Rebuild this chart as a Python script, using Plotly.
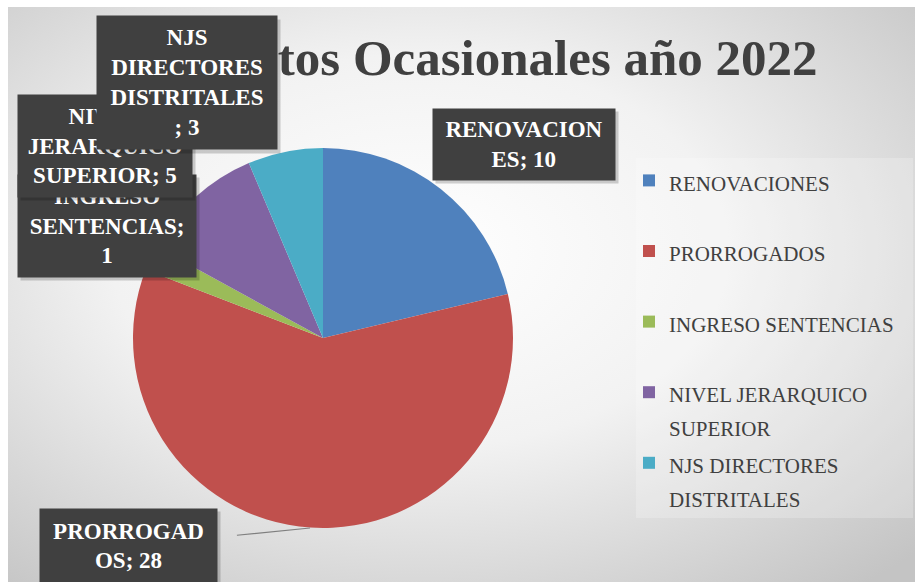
import base64
import plotly.graph_objects as go

# Datos del gráfico
categorias = [
    "RENOVACIONES",
    "PRORROGADOS",
    "INGRESO SENTENCIAS",
    "NIVEL JERARQUICO SUPERIOR",
    "NJS DIRECTORES DISTRITALES",
]
valores = [10, 28, 1, 5, 3]
colores = ["#4F81BD", "#C0504D", "#9BBB59", "#8064A2", "#4BACC6"]

# Etiquetas de leyenda (con salto de línea como en el original)
etiquetas_leyenda = [
    "RENOVACIONES",
    "PRORROGADOS",
    "INGRESO SENTENCIAS",
    "NIVEL JERARQUICO<br>SUPERIOR",
    "NJS DIRECTORES<br>DISTRITALES",
]

# Texto de las etiquetas de datos, cortado como en Excel
etiquetas_datos = [
    "RENOVACION<br>ES; ",
    "PRORROGAD<br>OS; ",
    "INGRESO<br>SENTENCIAS;<br>",
    "NIVEL<br>JERARQUICO<br>SUPERIOR; ",
    "NJS<br>DIRECTORES<br>DISTRITALES<br>; ",
]

titulo = "Contratos Ocasionales año 2022"

W, H = 915, 582
FUENTE = "Liberation Serif"

# Fondo con degradado radial (SVG embebido)
svg = f"""<svg xmlns='http://www.w3.org/2000/svg' width='{W}' height='{H}'>
<defs><radialGradient id='g' cx='0.45' cy='0.42' r='0.75'>
<stop offset='0' stop-color='#ffffff'/>
<stop offset='0.45' stop-color='#f2f2f2'/>
<stop offset='1' stop-color='#c4c4c4'/>
</radialGradient></defs>
<rect x='8' y='7' width='{W}' height='{H}' fill='url(#g)'/>
<rect x='636' y='158' width='277' height='360' fill='rgba(255,255,255,0.22)'/>
</svg>"""
fondo = "data:image/svg+xml;base64," + base64.b64encode(svg.encode()).decode()

fig = go.Figure(
    go.Pie(
        labels=[
            f"<span style='font-size:21px'>{l}</span>" + ("" if "<br>" in l else "<br> ")
            for l in etiquetas_leyenda
        ],
        values=valores,
        marker=dict(colors=colores, line=dict(width=0)),
        sort=False,
        direction="clockwise",
        rotation=0,
        textinfo="none",
        hovertext=categorias,
        hoverinfo="text+value",
        domain=dict(x=[133 / W, 513 / W], y=[1 - 528 / H, 1 - 148 / H]),
    )
)


def px_x(v):
    return v / W


def px_y(v):
    return 1 - v / H


# Cajas de etiquetas: (centro x, centro y, ancho, alto) en píxeles
cajas = {
    0: (524, 144, 182, 71),
    1: (128, 546, 177, 74),
    2: (107, 226, 178, 102),
    3: (105, 146, 174, 102),
    4: (187, 83, 180, 133),
}

anotaciones = [
    dict(
        text=f"<b>{titulo}</b>",
        x=px_x(820),
        y=px_y(58),
        xref="paper",
        yref="paper",
        xanchor="right",
        yanchor="middle",
        showarrow=False,
        font=dict(family=FUENTE, size=51, color="#404040"),
    )
]

# Orden de dibujo: las cajas posteriores quedan encima (con una sombra suave)
for i in [0, 1, 2, 3, 4]:
    cx, cy, w, h = cajas[i]
    txt = etiquetas_datos[i] + str(valores[i])
    sombra = dict(
        text="",
        x=px_x(cx + 3),
        y=px_y(cy + 3),
        xref="paper",
        yref="paper",
        xanchor="center",
        yanchor="middle",
        width=w,
        height=h,
        bgcolor="rgba(0,0,0,0.18)",
        borderpad=0,
        showarrow=False,
    )
    a = dict(
        text=f"<b>{txt}</b>",
        x=px_x(cx),
        y=px_y(cy),
        xref="paper",
        yref="paper",
        xanchor="center",
        yanchor="middle",
        width=w,
        height=h,
        bgcolor="#404040",
        borderpad=0,
        showarrow=False,
        font=dict(family=FUENTE, size=23, color="#ffffff"),
    )
    if i == 1:
        a.update(
            showarrow=True,
            arrowhead=0,
            arrowwidth=1.2,
            arrowcolor="#7f7f7f",
            x=px_x(310),
            y=px_y(528),
            ax=cx - 310,
            ay=cy - 528,
            startstandoff=20,
        )
    anotaciones += [sombra, a]

fig.update_layout(
    width=W,
    height=H,
    margin=dict(l=0, r=0, t=0, b=0),
    paper_bgcolor="#ffffff",
    images=[
        dict(
            source=fondo,
            xref="paper",
            yref="paper",
            x=0,
            y=1,
            sizex=1,
            sizey=1,
            sizing="stretch",
            layer="below",
        )
    ],
    annotations=anotaciones,
    showlegend=True,
    legend=dict(
        x=px_x(629),
        y=px_y(157),
        xanchor="left",
        yanchor="top",
        valign="top",
        bgcolor="rgba(0,0,0,0)",
        font=dict(family=FUENTE, size=26, color="#404040"),
        itemwidth=30,
    ),
)

fig.write_html(
    "out.html",
    config={"displayModeBar": False},
    post_script="document.body.style.margin='0';document.body.style.overflow='hidden';",
)
